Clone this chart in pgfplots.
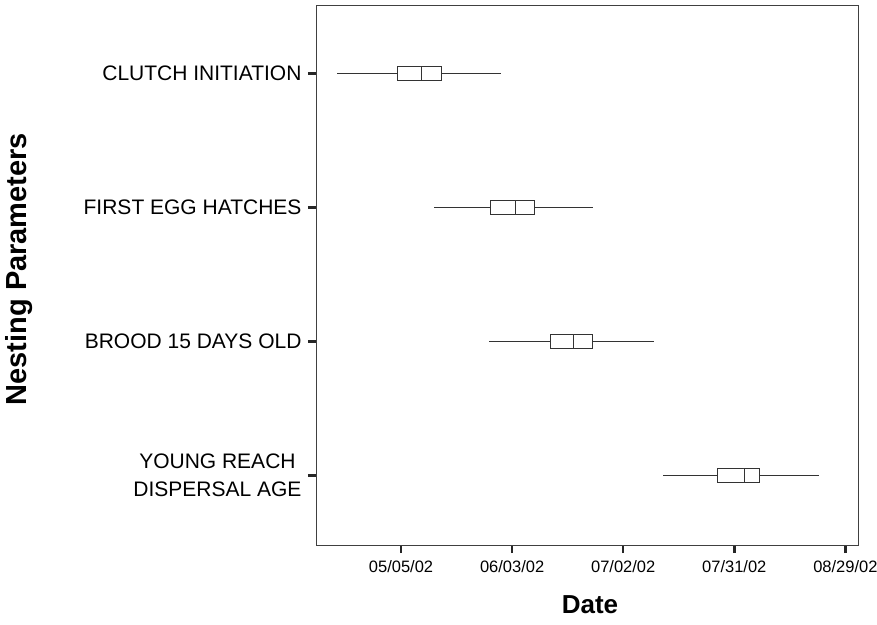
\documentclass[border=0pt]{standalone}
\usepackage{pgfplots}
\pgfplotsset{compat=1.18}
\usepgfplotslibrary{statistics}
\usepackage{fontspec}
\setmainfont{Liberation Sans}

\begin{document}
\begin{tikzpicture}
\useasboundingbox (-316pt,-79pt) rectangle (561pt,545pt);
\begin{axis}[
 at={(0pt,0pt)}, anchor=south west,
 scale only axis, width=542pt, height=540pt,
 xmin=-22.2, xmax=119.3, ymin=0.48, ymax=4.51,
 xtick={0,29,58,87,116},
 xticklabels={05/05/02,06/03/02,07/02/02,07/31/02,08/29/02},
 ytick={1,2,3,4},
 yticklabels={{YOUNG REACH\\DISPERSAL AGE},BROOD 15 DAYS OLD,FIRST EGG HATCHES,CLUTCH INITIATION},
 tick pos=left, tick align=outside,
 major tick length=8pt,
 tick style={line width=2.6pt, black!85},
 axis line style={line width=0.8pt, black!75},
 x tick label style={font=\fontsize{16.5}{19}\selectfont, yshift=-4pt},
 y tick label style={font=\fontsize{21}{28}\selectfont, align=center, xshift=-3pt},
 xlabel={\textbf{Date}}, ylabel={\textbf{Nesting Parameters}},
 xlabel style={font=\fontsize{26}{30}\selectfont, at={(axis description cs:0.5055,-0.111)}, anchor=center},
 ylabel style={font=\fontsize{29}{32}\selectfont, at={(axis description cs:-0.548,0.511)}, anchor=center, rotate=0},
]
\addplot[boxplot prepared={draw position=4, lower whisker=-16.8, lower quartile=-0.9, median=5.2, upper quartile=10.5, upper whisker=26.2, box extend=0.1, whisker extend=0}, draw=black!80, fill=white, line width=0.7pt] coordinates {};
\addplot[boxplot prepared={draw position=3, lower whisker=8.6, lower quartile=23.2, median=29.9, upper quartile=34.9, upper whisker=50.1, box extend=0.1, whisker extend=0}, draw=black!80, fill=white, line width=0.7pt] coordinates {};
\addplot[boxplot prepared={draw position=2, lower whisker=23.0, lower quartile=39.0, median=44.9, upper quartile=49.9, upper whisker=66.0, box extend=0.1, whisker extend=0}, draw=black!80, fill=white, line width=0.7pt] coordinates {};
\addplot[boxplot prepared={draw position=1, lower whisker=68.5, lower quartile=82.7, median=89.5, upper quartile=93.6, upper whisker=109.2, box extend=0.1, whisker extend=0}, draw=black!80, fill=white, line width=0.7pt] coordinates {};
\end{axis}
\end{tikzpicture}
\end{document}
